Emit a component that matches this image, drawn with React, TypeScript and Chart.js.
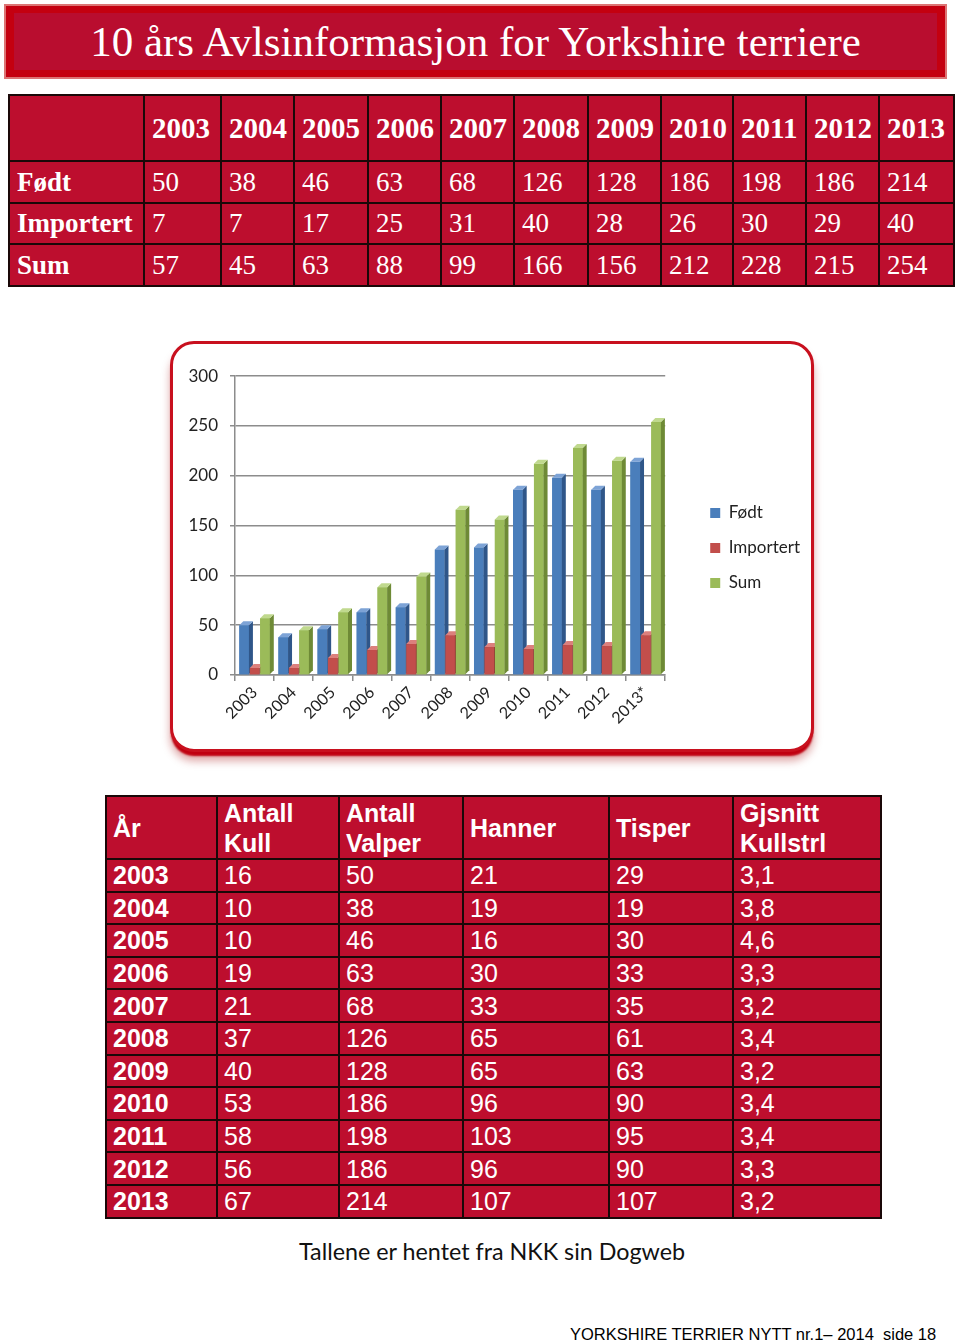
import React, { useEffect, useRef } from "react";
import { Chart, registerables } from "chart.js";

Chart.register(...registerables);

// ---------- data ----------
const years = ["2003", "2004", "2005", "2006", "2007", "2008", "2009", "2010", "2011", "2012", "2013"];
const chartLabels = ["2003", "2004", "2005", "2006", "2007", "2008", "2009", "2010", "2011", "2012", "2013*"];
const fodt = [50, 38, 46, 63, 68, 126, 128, 186, 198, 186, 214];
const importert = [7, 7, 17, 25, 31, 40, 28, 26, 30, 29, 40];
const sum = [57, 45, 63, 88, 99, 166, 156, 212, 228, 215, 254];
const seriesNames = ["Født", "Importert", "Sum"];

const aar = ["2003", "2004", "2005", "2006", "2007", "2008", "2009", "2010", "2011", "2012", "2013"];
const antallKull = [16, 10, 10, 19, 21, 37, 40, 53, 58, 56, 67];
const antallValper = [50, 38, 46, 63, 68, 126, 128, 186, 198, 186, 214];
const hanner = [21, 19, 16, 30, 33, 65, 65, 96, 103, 96, 107];
const tisper = [29, 19, 30, 33, 35, 61, 63, 90, 95, 90, 107];
const gjsnitt = ["3,1", "3,8", "4,6", "3,3", "3,2", "3,4", "3,2", "3,4", "3,4", "3,3", "3,2"];

const titleText = "10 års Avlsinformasjon for Yorkshire terriere";
const captionText = "Tallene er hentet fra NKK sin Dogweb";
const footerText = "YORKSHIRE TERRIER NYTT nr.1– 2014  side 18";

// ---------- styles ----------
const RED = "#bd0e2e";
const LINE = "#1a0808";
const CHART_FONT = "Lato";
const faceColors = [
  { front: "#4a7ebb", side: "#2f5689", top: "#7da3d6" },
  { front: "#c24e4b", side: "#8e302e", top: "#dc807d" },
  { front: "#9bbb59", side: "#6e8a36", top: "#c0d98e" },
];

const bar3d = {
  id: "bar3d",
  afterDatasetsDraw(chart: any) {
    const ctx = chart.ctx;
    const d = 4;
    chart.data.datasets.forEach((_ds: any, i: number) => {
      const meta = chart.getDatasetMeta(i);
      const c = faceColors[i];
      meta.data.forEach((el: any) => {
        const p = el.getProps(["x", "y", "base", "width"], true);
        const l = p.x - p.width / 2;
        const r = p.x + p.width / 2;
        ctx.save();
        ctx.fillStyle = c.front;
        ctx.fillRect(l, p.y, p.width, p.base - p.y);
        ctx.fillStyle = c.side;
        ctx.beginPath();
        ctx.moveTo(r, p.y);
        ctx.lineTo(r + d, p.y - d);
        ctx.lineTo(r + d, p.base - d);
        ctx.lineTo(r, p.base);
        ctx.closePath();
        ctx.fill();
        ctx.fillStyle = c.top;
        ctx.beginPath();
        ctx.moveTo(l, p.y);
        ctx.lineTo(l + d, p.y - d);
        ctx.lineTo(r + d, p.y - d);
        ctx.lineTo(r, p.y);
        ctx.closePath();
        ctx.fill();
        ctx.restore();
      });
    });
  },
};

function BarChart() {
  const ref = useRef<HTMLCanvasElement>(null);
  useEffect(() => {
    let chart: Chart | null = null;
    let cancelled = false;
    const build = () => {
      if (cancelled || !ref.current) return;
      chart = new Chart(ref.current, {
        type: "bar",
        data: {
          labels: chartLabels,
          datasets: [
            { label: seriesNames[0], data: fodt, backgroundColor: faceColors[0].front },
            { label: seriesNames[1], data: importert, backgroundColor: faceColors[1].front },
            { label: seriesNames[2], data: sum, backgroundColor: faceColors[2].front },
          ],
        },
        options: {
          animation: false,
          responsive: false,
          devicePixelRatio: 1,
          datasets: { bar: { categoryPercentage: 0.8, barPercentage: 0.92 } },
          layout: { padding: 0 },
          plugins: {
            legend: {
              position: "right",
              align: "center",
              maxWidth: 120,
              labels: {
                boxWidth: 10,
                boxHeight: 10,
                padding: 18,
                color: "#222",
                font: { family: CHART_FONT, size: 17 },
              },
            },
            tooltip: { enabled: false },
          },
          scales: {
            x: {
              grid: { display: true, drawOnChartArea: false, drawTicks: true, tickLength: 6, color: "#8c8c8c", lineWidth: 1.5 },
              border: { color: "#8c8c8c", width: 1.5 },
              ticks: { minRotation: 45, maxRotation: 45, autoSkip: false, padding: 2, color: "#222", font: { family: CHART_FONT, size: 16 } },
              afterFit: (s: any) => { s.height = 67; },
            },
            y: {
              min: 0,
              max: 300,
              ticks: { stepSize: 50, padding: 12, color: "#222", font: { family: CHART_FONT, size: 17 } },
              grid: { color: "#8c8c8c", lineWidth: 1.5, tickLength: 5 },
              border: { color: "#8c8c8c", width: 1.5 },
              afterFit: (s: any) => { s.width = 57; },
            },
            gapTop: {
              type: "linear",
              position: "top",
              display: true,
              grid: { display: false },
              border: { display: false },
              ticks: { display: false },
              afterFit: (s: any) => { s.height = 9; },
            },
            gapRight: {
              type: "linear",
              position: "right",
              display: true,
              grid: { display: false },
              border: { display: false },
              ticks: { display: false },
              afterFit: (s: any) => { s.width = 27; },
            },
          },
        } as any,
        plugins: [bar3d],
      });
    };
    const fonts: any = (document as any).fonts;
    if (fonts && fonts.load) {
      Promise.all([
        fonts.load(`16px ${CHART_FONT}`),
        fonts.load(`17px ${CHART_FONT}`),
      ])
        .catch(() => null)
        .then(() => build());
    } else {
      build();
    }
    return () => {
      cancelled = true;
      if (chart) chart.destroy();
    };
  }, []);
  return (
    <canvas
      ref={ref}
      width={632}
      height={388}
      style={{ position: "absolute", left: 178, top: 354, width: 632, height: 388 }}
    />
  );
}

const topCols = [135, 77, 73, 74, 73, 73, 74, 73, 72, 73, 73, 75];
const botCols = [111, 122, 124, 146, 124, 148];

function TopTable() {
  const serif = "'Liberation Serif', 'Times New Roman', serif";
  const cell: React.CSSProperties = {
    border: `2px solid ${LINE}`,
    background: RED,
    color: "#fff",
    padding: "0 0 0 7px",
    verticalAlign: "middle",
    whiteSpace: "nowrap",
    overflow: "hidden",
  };
  const rows: [string, (number | string)[]][] = [
    ["Født", fodt],
    ["Importert", importert],
    ["Sum", sum],
  ];
  return (
    <table
      style={{
        position: "absolute",
        left: 8,
        top: 94,
        width: 945,
        borderCollapse: "collapse",
        tableLayout: "fixed",
        fontFamily: serif,
      }}
    >
      <colgroup>
        {topCols.map((w, i) => (
          <col key={i} style={{ width: w }} />
        ))}
      </colgroup>
      <tbody>
        <tr style={{ height: 66 }}>
          <td style={cell}></td>
          {years.map((y) => (
            <td key={y} style={{ ...cell, fontWeight: "bold", fontSize: 29 }}>
              {y}
            </td>
          ))}
        </tr>
        {rows.map(([name, vals], ri) => (
          <tr key={name} style={{ height: ri === 1 ? 41 : 42 }}>
            <td style={{ ...cell, fontWeight: "bold", fontSize: 27 }}>{name}</td>
            {vals.map((v, i) => (
              <td key={i} style={{ ...cell, fontSize: 27 }}>
                {v}
              </td>
            ))}
          </tr>
        ))}
      </tbody>
    </table>
  );
}

function BottomTable() {
  const sans = "'Liberation Sans', Arial, sans-serif";
  const cell: React.CSSProperties = {
    border: `2px solid ${LINE}`,
    background: RED,
    color: "#fff",
    padding: "0 0 0 6px",
    verticalAlign: "middle",
    whiteSpace: "nowrap",
    overflow: "hidden",
    fontSize: 25,
    lineHeight: "30px",
  };
  const headers = ["År", "Antall\nKull", "Antall\nValper", "Hanner", "Tisper", "Gjsnitt\nKullstrl"];
  return (
    <table
      style={{
        position: "absolute",
        left: 105,
        top: 795,
        width: 775,
        borderCollapse: "collapse",
        tableLayout: "fixed",
        fontFamily: sans,
      }}
    >
      <colgroup>
        {botCols.map((w, i) => (
          <col key={i} style={{ width: w }} />
        ))}
      </colgroup>
      <tbody>
        <tr style={{ height: 63 }}>
          {headers.map((h, i) => (
            <td key={i} style={{ ...cell, fontWeight: "bold", whiteSpace: "pre" }}>
              {h}
            </td>
          ))}
        </tr>
        {aar.map((y, i) => (
          <tr key={y} style={{ height: 32.6 }}>
            <td style={{ ...cell, fontWeight: "bold" }}>{y}</td>
            <td style={cell}>{antallKull[i]}</td>
            <td style={cell}>{antallValper[i]}</td>
            <td style={cell}>{hanner[i]}</td>
            <td style={cell}>{tisper[i]}</td>
            <td style={cell}>{gjsnitt[i]}</td>
          </tr>
        ))}
      </tbody>
    </table>
  );
}

export default function App() {
  return (
    <div
      style={{
        position: "absolute",
        left: 0,
        top: 0,
        width: 960,
        height: 1344,
        background: "#fff",
        overflow: "hidden",
      }}
    >
      {/* title banner */}
      <div
        style={{
          position: "absolute",
          left: 4,
          top: 4,
          width: 943,
          height: 75,
          boxSizing: "border-box",
          background: "#c40010",
          border: "2px solid #dc7474",
        }}
      >
        <div
          style={{
            position: "absolute",
            left: 8,
            top: 7,
            right: 8,
            bottom: 7,
            background: "#b90d2f",
          }}
        />
        <div
          style={{
            position: "absolute",
            left: 0,
            right: 0,
            top: 0,
            height: 71,
            lineHeight: "71px",
            textAlign: "center",
            color: "#fff",
            fontFamily: "'Liberation Serif', serif",
            fontSize: 43,
            whiteSpace: "nowrap",
          }}
        >
          {titleText}
        </div>
      </div>

      <TopTable />

      {/* chart box */}
      <div
        style={{
          position: "absolute",
          left: 170,
          top: 341,
          width: 644,
          height: 411,
          boxSizing: "border-box",
          border: "3px solid #c8101e",
          borderRadius: 24,
          background: "#fff",
          boxShadow: "0 5px 2px -1px #c00010, 0 9px 8px rgba(160,0,0,0.35)",
        }}
      />
      <BarChart />

      <BottomTable />

      <div
        style={{
          position: "absolute",
          left: 299,
          top: 1237,
          fontFamily: "Lato, sans-serif",
          fontSize: 23.3,
          color: "#111",
          whiteSpace: "nowrap",
        }}
      >
        {captionText}
      </div>
      <div
        style={{
          position: "absolute",
          left: 570,
          top: 1325,
          fontFamily: "'Liberation Sans', Arial, sans-serif",
          fontSize: 16.5,
          color: "#000",
          whiteSpace: "pre",
        }}
      >
        {footerText}
      </div>
    </div>
  );
}
